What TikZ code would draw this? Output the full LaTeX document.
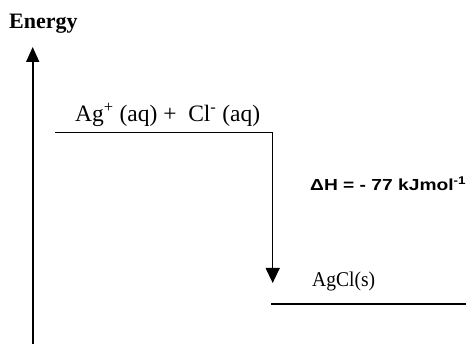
\documentclass[tikz,border=0pt]{standalone}
\usepackage{fontspec}
\setmainfont{Liberation Serif}
\newfontfamily\labelsans{Liberation Sans}
\usetikzlibrary{arrows.meta}
\begin{document}
\begin{tikzpicture}[x=1pt,y=-1pt,
  lvl/.style={line width=1.4pt},
  axisline/.style={line width=1.8pt,-{Triangle[length=15pt,width=13pt]}},
  dharrow/.style={line width=1.4pt,-{Triangle[length=15pt,width=14pt]}},
  txt/.style={anchor=base west,inner sep=0pt}]
\useasboundingbox (0,0) rectangle (466,344);
% texts
\node[txt,font=\fontsize{22}{24}\selectfont\bfseries] (energy) at (9,29) {Energy};
\node[txt,font=\fontsize{23.5}{26}\selectfont] (react) at (75,121.5) {Ag\textsuperscript{+} (aq) +\ \ Cl\textsuperscript{-} (aq)};
\node[txt,font=\fontsize{21}{24}\selectfont] (prod) at (312,287) {\scalebox{0.93}[1]{AgCl(s)}};
\node[txt,font=\labelsans\fontsize{16}{18}\selectfont\bfseries] (dh) at (310,191) {\scalebox{1.2}[1]{ΔH = - 77 kJmol\textsuperscript{-1}}};
% coordinates
\coordinate (axb) at (32.7,344);
\coordinate (axt) at (32.7,47);
\coordinate (ul) at (55,132.7);
\coordinate (ur) at (272.7,132.7);
\coordinate (tip) at (272.7,283);
\coordinate (ll) at (271,304);
\coordinate (lr) at (466,304);
% lines
\draw[axisline] (axb) -- (axt);
\draw[lvl] (ul) -- (ur);
\draw[dharrow] (ur) -- (tip);
\draw[lvl] (ll) -- (lr);
\end{tikzpicture}
\end{document}
